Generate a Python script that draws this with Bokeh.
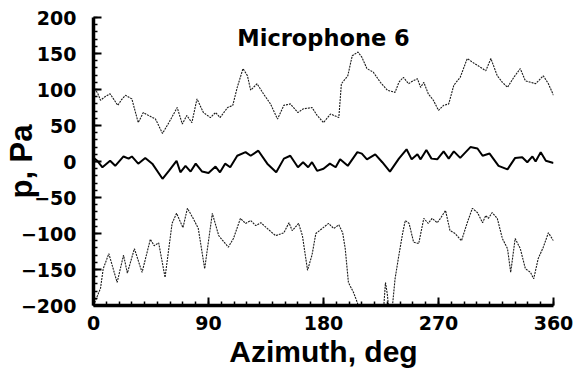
from bokeh.plotting import figure
from bokeh.models import Range1d, SingleIntervalTicker, Label
from bokeh.embed import file_html
from bokeh.resources import INLINE

# Azimuth positions (deg) and pressure (Pa) for the three traces
upper_az = [0, 3, 5.5, 9, 13, 16, 19, 22, 25, 30,
            35, 39, 43, 48.5, 54, 59, 65.5, 69.5, 73, 77,
            81, 86, 91.5, 95.5, 99, 105, 109, 112.5, 117, 120.5,
            123, 128, 133, 138.5, 144, 149, 154, 160, 164, 171,
            175, 180, 185.5, 192, 194, 199, 202.5, 207, 210, 214,
            219, 224.5, 230, 236, 239, 242.5, 246.5, 250, 253.5, 256,
            258.5, 262, 266, 270, 274, 278, 282, 287, 292.5, 296.5,
            301, 307, 311, 316, 320, 324, 329, 334, 338, 342,
            346, 352, 356, 360]
upper_p = [100, 96, 85, 90, 94, 86, 78, 86, 92, 87,
           54, 68, 64, 59, 39, 54, 75, 52, 64, 54,
           87, 68, 61, 68, 61, 75, 78, 103, 129, 119,
           99, 108, 94, 80, 59, 78, 80, 68, 73, 75,
           64, 54, 66, 61, 108, 119, 147, 152, 145, 129,
           124, 110, 99, 96, 110, 117, 108, 112, 115, 103,
           110, 94, 85, 71, 78, 80, 106, 117, 143, 138,
           133, 126, 143, 119, 110, 103, 117, 129, 112, 110,
           108, 119, 108, 92]

mid_az = [0, 3, 7, 13, 17, 23.5, 27.5, 30, 35, 40.5,
          46, 54, 59, 65, 68, 72, 76, 80, 85, 90,
          95.5, 99, 103, 107, 112.5, 119, 123, 129, 136, 143,
          149, 154, 160, 164, 168, 171, 175, 180, 185, 189.5,
          193, 199, 206.5, 210, 214, 220.5, 226, 232, 239, 245,
          249, 253.5, 256, 260.5, 264.5, 269, 274, 278, 282, 287,
          295, 300.5, 304.5, 310, 317, 324, 330, 335.5, 339.5, 343.5,
          346, 350, 354, 360]
mid_p = [5, 1, -8, 1, -6, 7, 4, 7, -3, 5,
         -3, -24, -13, 1, -15, -6, -14, -3, -14, -16,
         -7, -15, -3, -8, 8, 13, 8, 15, -3, -15,
         4, 8, -8, -1, -8, -1, -13, -10, -3, -8,
         3, -6, 13, 11, 3, 10, -1, -14, 4, 17,
         3, 10, 3, 16, 4, 3, 14, 4, 14, 5,
         20, 18, 8, 11, -6, -11, 5, 6, -1, 7,
         0, 13, 1, -2]

lower_az = [0, 2.3, 5.5, 7.6, 12, 18.5, 23.5, 26.5, 32, 38,
            44.5, 47.5, 51, 56, 61.5, 65, 70, 73.5, 78, 82,
            87, 93, 98, 105.5, 109.5, 115, 119, 123, 127, 131,
            136, 142.5, 149, 153, 155.5, 160.5, 163.5, 167.5, 171, 174,
            179, 184, 188, 192, 195, 197, 199.5, 203.5, 206.5, 210,
            218, 226, 228.5, 230, 231.5, 234, 236, 239, 242, 244,
            247, 250.5, 254.5, 258.5, 262, 265, 269, 271.5, 275.5, 279,
            283, 288, 292.5, 296.5, 300.5, 304.5, 307, 309, 312, 316,
            320, 324, 326.5, 330, 334, 338, 342, 344.5, 348, 352,
            356, 360]
lower_p = [-200, -190, -176, -149, -128, -168, -130, -155, -121, -154,
           -108, -117, -113, -161, -86, -72, -92, -65, -79, -93,
           -149, -72, -103, -119, -107, -79, -86, -82, -89, -85,
           -93, -103, -99, -85, -96, -86, -103, -151, -130, -100,
           -93, -86, -93, -88, -99, -121, -168, -182, -196, -225,
           -240, -230, -168, -185, -215, -200, -163, -130, -99, -82,
           -86, -112, -114, -79, -86, -79, -85, -79, -68, -96,
           -100, -110, -85, -65, -71, -85, -75, -79, -71, -79,
           -107, -121, -154, -107, -121, -149, -154, -163, -135, -119,
           -99, -110]

x_ticks_step = 90
y_ticks_step = 50
title_text = "Microphone 6"

p = figure(width=578, height=373,
           x_range=Range1d(0, 360), y_range=Range1d(-200, 200),
           output_backend="svg", toolbar_location=None,
           min_border_left=93, min_border_right=25,
           min_border_top=17, min_border_bottom=68)
p.outline_line_color = None
p.xgrid.visible = False
p.ygrid.visible = False
p.background_fill_color = "white"
p.border_fill_color = "white"

p.xaxis.ticker = SingleIntervalTicker(interval=x_ticks_step, num_minor_ticks=9)
p.yaxis.ticker = SingleIntervalTicker(interval=y_ticks_step, num_minor_ticks=5)

for ax in (p.xaxis, p.yaxis):
    ax.axis_line_width = 3.5
    ax.axis_line_color = "black"
    ax.major_tick_in = 8
    ax.major_tick_out = 0
    ax.minor_tick_in = 4
    ax.minor_tick_out = 0
    ax.major_tick_line_width = 2
    ax.minor_tick_line_width = 1.5
    ax.major_tick_line_color = "black"
    ax.minor_tick_line_color = "black"
    ax.major_label_text_font = "DejaVu Sans"
    ax.major_label_text_font_style = "bold"
    ax.major_label_text_font_size = "19px"
    ax.major_label_text_color = "black"
    ax.axis_label_text_font = "Liberation Sans"
    ax.axis_label_text_font_style = "bold"
    ax.axis_label_text_color = "black"

p.xaxis.axis_label = "Azimuth, deg"
p.xaxis.axis_label_text_font_size = "30px"
p.xaxis.major_label_standoff = 10
p.xaxis.axis_label_standoff = 2

p.yaxis.axis_label = "p, Pa"
p.yaxis.axis_label_text_font_size = "31px"
p.yaxis.major_label_standoff = 17
p.yaxis.axis_label_standoff = -21

p.line(upper_az, upper_p, line_color="#1a1a1a", line_width=1.1, line_dash="2 1")
p.line(lower_az, lower_p, line_color="#1a1a1a", line_width=1.1, line_dash="2 1")
p.line(mid_az, mid_p, line_color="black", line_width=2)

p.add_layout(Label(x=180, y=172, text=title_text, text_align="center",
                   text_baseline="middle", text_font="DejaVu Sans",
                   text_font_style="bold", text_font_size="22.5px",
                   text_color="black"))

open("out.html", "w").write(file_html(p, INLINE))
